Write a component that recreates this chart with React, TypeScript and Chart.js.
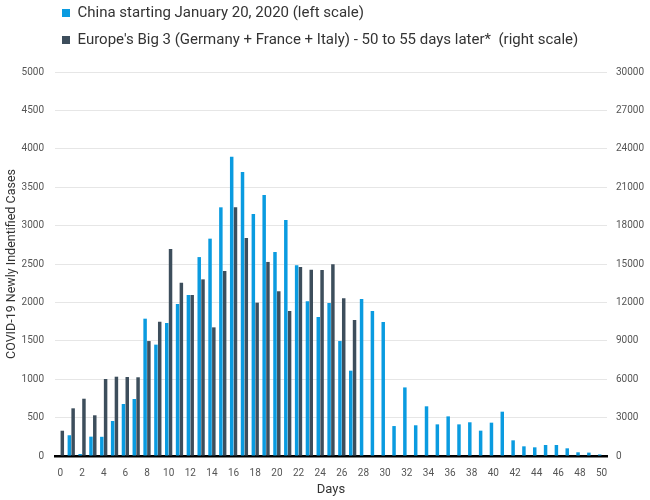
import { useEffect, useRef } from 'react'
import { Chart, registerables } from 'chart.js'

Chart.register(...registerables)

const days = [
  '0', '1', '2', '3', '4', '5', '6', '7', '8', '9',
  '10', '11', '12', '13', '14', '15', '16', '17', '18', '19',
  '20', '21', '22', '23', '24', '25', '26', '27', '28', '29',
  '30', '31', '32', '33', '34', '35', '36', '37', '38', '39',
  '40', '41', '42', '43', '44', '45', '46', '47', '48', '49', '50',
]

// China, left scale
const chinaCases = [
  0, 270, 26, 252, 250, 456, 677, 742, 1788, 1450,
  1732, 1980, 2096, 2590, 2830, 3238, 3897, 3698, 3151, 3398,
  2656, 3073, 2483, 2014, 1810, 1992, 1497, 1111, 2044, 1888,
  1745, 390, 893, 400, 647, 412, 516, 412, 439, 330,
  434, 577, 204, 126, 113, 143, 143, 100, 48, 44, 20,
]

// Germany + France + Italy, right scale
const europeCases: (number | null)[] = [
  1975, 3725, 4475, 3180, 6015, 6195, 6170, 6150, 8980, 10490,
  16170, 13540, 12580, 13800, 10050, 14450, 19430, 17030, 11980, 15160,
  12870, 11330, 14770, 14550, 14530, 14980, 12320, 10625,
]

const chinaLabel = 'China starting January 20, 2020 (left scale)'
const europeLabel = "Europe's Big 3 (Germany + France + Italy) - 50 to 55 days later*  (right scale)"
const yTitle = 'COVID-19 Newly Indentified Cases'
const xTitle = 'Days'

const FONT = 'Roboto, "Noto Sans", sans-serif'

export default function App() {
  const canvasRef = useRef<HTMLCanvasElement>(null)
  const chartRef = useRef<Chart | null>(null)

  useEffect(() => {
    if (!canvasRef.current) return
    if (chartRef.current) { chartRef.current.destroy(); chartRef.current = null }

    // fixed legend height (so the plot starts where the original does) and
    // legend pulled left so its boxes line up just inside the plot edge
    const legendTweak = {
      id: 'legendTweak',
      beforeInit(chart: any) {
        const legend = chart.legend
        if (!legend) return
        const fit = legend.fit
        legend.fit = function () {
          fit.bind(legend)()
          this.height = 78.5
        }
      },
      beforeDraw(chart: any) {
        const legend = chart.legend
        if (!legend) return
        legend.left = chart.chartArea.left + 7 - legend.options.labels.padding
      },
    }

    chartRef.current = new Chart(canvasRef.current, {
      type: 'bar',
      plugins: [legendTweak],
      data: {
        labels: days,
        datasets: [
          {
            label: chinaLabel,
            data: chinaCases,
            backgroundColor: '#0a9be0',
            yAxisID: 'y',
            categoryPercentage: 0.7,
            barPercentage: 0.92,
          },
          {
            label: europeLabel,
            data: europeCases,
            backgroundColor: '#3d4e5c',
            yAxisID: 'y1',
            categoryPercentage: 0.7,
            barPercentage: 0.92,
          },
        ],
      },
      options: {
        responsive: true,
        maintainAspectRatio: false,
        animation: false,
        layout: { padding: { top: -6.5, left: 4, right: 0, bottom: 0 } },
        plugins: {
          legend: {
            position: 'top',
            align: 'start',
            fullSize: false,
            labels: {
              boxWidth: 8,
              boxHeight: 8,
              padding: 12,
              color: '#333',
              font: { family: FONT, size: 15 },
            },
          },
          tooltip: { enabled: false },
        },
        scales: {
          x: {
            z: 1,
            grid: { display: false, drawTicks: false },
            border: { display: true, color: '#000', width: 2.5 },
            afterFit: (s: any) => { s.height = 44 },
            ticks: {
              autoSkip: false,
              maxRotation: 0,
              padding: 11,
              color: '#555',
              font: { family: FONT, size: 10 },
              callback: (_v: any, i: number) => (i % 2 === 0 ? days[i] : ''),
            },
            title: {
              display: true,
              text: xTitle,
              color: '#333',
              font: { family: FONT, size: 13 },
              padding: { top: 2, bottom: 2 },
            },
          },
          y: {
            position: 'left',
            min: 0,
            max: 5000,
            grid: { color: '#e6e6e6', drawTicks: false },
            border: { display: false },
            afterFit: (s: any) => { s.width = 51 },
            ticks: {
              stepSize: 500,
              padding: 11,
              color: '#555',
              font: { family: FONT, size: 10 },
              callback: (v: any) => String(v),
            },
            title: {
              display: true,
              text: yTitle,
              color: '#333',
              font: { family: FONT, size: 12.5 },
              padding: { top: 0, bottom: 2 },
            },
          },
          y1: {
            position: 'right',
            min: 0,
            max: 30000,
            grid: { drawOnChartArea: false, drawTicks: false },
            border: { display: false },
            afterFit: (s: any) => { s.width = 43 },
            ticks: {
              stepSize: 3000,
              padding: 9,
              color: '#555',
              font: { family: FONT, size: 10 },
              callback: (v: any) => String(v),
            },
          },
        },
      },
    })

    return () => { chartRef.current?.destroy(); chartRef.current = null }
  }, [])

  return (
    <div style={{ position: 'fixed', left: 0, top: 0, width: 650, height: 500, background: '#fff' }}>
      <canvas ref={canvasRef} />
    </div>
  )
}
